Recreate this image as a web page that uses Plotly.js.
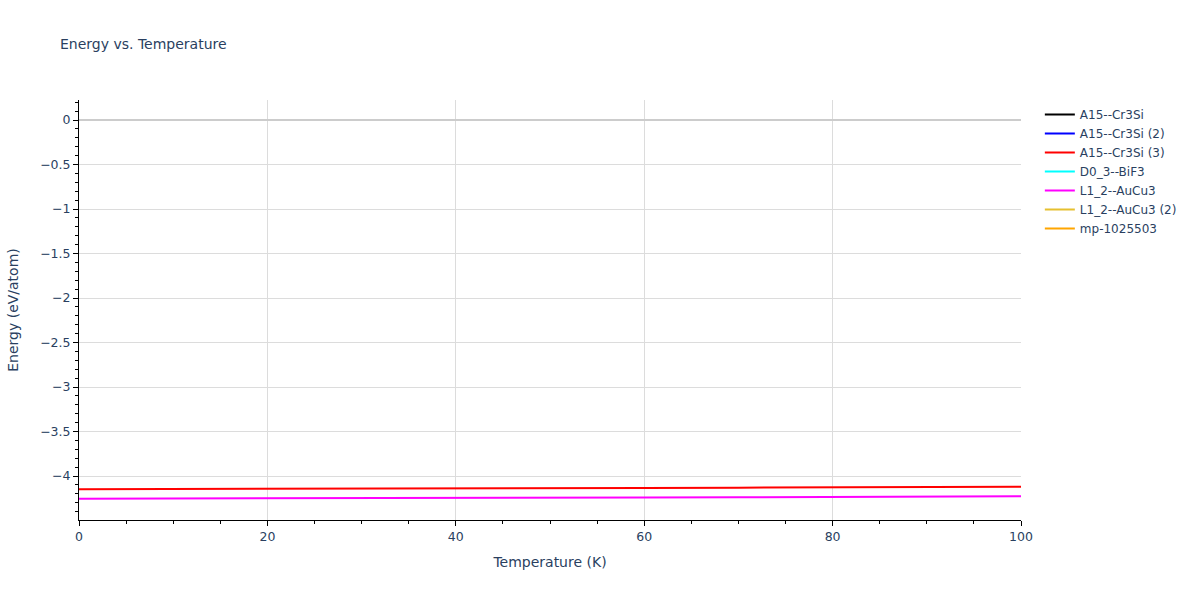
<!DOCTYPE html>
<html>
<head>
<meta charset="utf-8">
<script src="https://cdn.plot.ly/plotly-3.0.1.min.js"></script>
<style>body{margin:0;}#energy-plot{width:1200px;height:600px;}</style>
</head>
<body>
<div id="energy-plot"></div>
<script>
// temperature grid (K)
var temps = [0, 10, 20, 30, 40, 50, 60, 70, 80, 90, 100];

// energies (eV/atom); null = no visible line
var a15_cr3si   = [null, null, null, null, null, null, null, null, null, null, null];
var a15_cr3si_2 = [null, null, null, null, null, null, null, null, null, null, null];
var a15_cr3si_3 = [-4.148, -4.147, -4.145, -4.143, -4.140, -4.137, -4.134, -4.131, -4.128, -4.124, -4.120];
var d03_bif3    = [null, null, null, null, null, null, null, null, null, null, null];
var l12_aucu3   = [-4.255, -4.254, -4.252, -4.250, -4.247, -4.244, -4.241, -4.238, -4.235, -4.232, -4.228];
var l12_aucu3_2 = [null, null, null, null, null, null, null, null, null, null, null];
var mp_1025503  = [null, null, null, null, null, null, null, null, null, null, null];

var names  = ['A15--Cr3Si', 'A15--Cr3Si (2)', 'A15--Cr3Si (3)', 'D0_3--BiF3', 'L1_2--AuCu3', 'L1_2--AuCu3 (2)', 'mp-1025503'];
var series = [a15_cr3si, a15_cr3si_2, a15_cr3si_3, d03_bif3, l12_aucu3, l12_aucu3_2, mp_1025503];
var colors = ['black', 'blue', 'red', 'cyan', 'magenta', '#e6c030', 'orange'];

var data = [];
for (var i = 0; i < names.length; i++) {
    data.push({
        x: temps,
        y: series[i],
        type: 'scatter',
        mode: 'lines',
        name: names[i],
        line: {color: colors[i], width: 2}
    });
}

var axisStyle = {
    showline: true,
    linecolor: 'black',
    linewidth: 1,
    ticks: 'outside',
    ticklen: 5,
    tickcolor: 'black',
    tickfont: {size: 12.5},
    showgrid: true,
    gridcolor: '#dcdcdc',
    zeroline: true,
    zerolinecolor: '#cccccc',
    zerolinewidth: 2
};

var layout = {
    font: {family: 'DejaVu Sans, Verdana, sans-serif', color: '#2a3f5f', size: 12},
    title: {text: 'Energy vs. Temperature', x: 0.05, y: 0.935, font: {size: 14}},
    paper_bgcolor: 'white',
    plot_bgcolor: 'white',
    showlegend: true,
    legend: {x: 1.02, y: 1, font: {size: 12}},
    xaxis: Object.assign({}, axisStyle, {
        title: {text: 'Temperature (K)', font: {size: 14}, standoff: 14},
        automargin: false,
        range: [0, 100],
        dtick: 20,
        minor: {ticks: 'outside', ticklen: 3, tickcolor: 'black', dtick: 5, showgrid: false}
    }),
    yaxis: Object.assign({}, axisStyle, {
        title: {text: 'Energy (eV/atom)', font: {size: 14}, standoff: 18},
        automargin: true,
        range: [-4.494, 0.225],
        dtick: 0.5,
        minor: {ticks: 'outside', ticklen: 3, tickcolor: 'black', dtick: 0.1, showgrid: false}
    }),
    margin: {l: 79, r: 179, t: 100, b: 80, autoexpand: false}
};

Plotly.newPlot('energy-plot', data, layout, {displaylogo: false, displayModeBar: false});
</script>
</body>
</html>
